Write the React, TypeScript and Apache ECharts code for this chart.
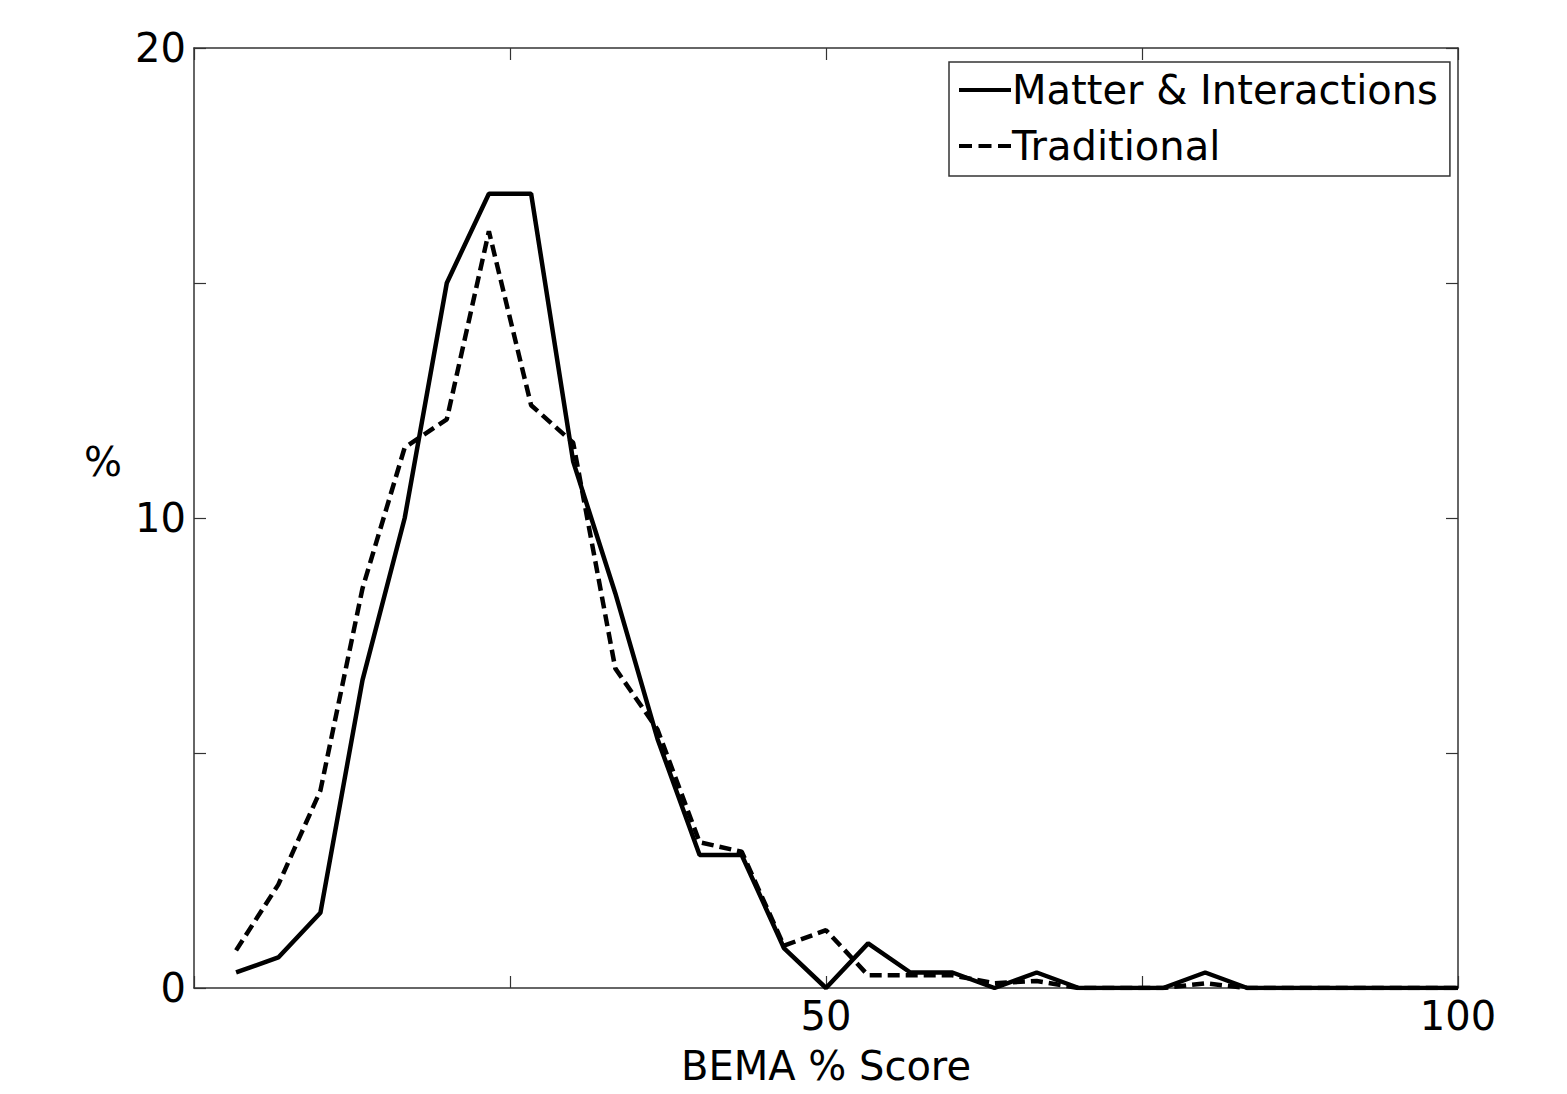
import React, { useEffect, useRef } from "react";
import * as echarts from "echarts";

// BEMA % score bins (30-question test)
const scores = [
  3.33, 6.67, 10, 13.33, 16.67, 20, 23.33, 26.67, 30, 33.33,
  36.67, 40, 43.33, 46.67, 50, 53.33, 56.67, 60, 63.33, 66.67,
  70, 73.33, 76.67, 80, 83.33, 86.67, 90, 93.33, 96.67, 100,
];
const matterInteractions = [
  0.33, 0.65, 1.6, 6.55, 10.0, 15.0, 16.9, 16.9, 11.2, 8.4,
  5.3, 2.83, 2.83, 0.85, 0, 0.95, 0.33, 0.33, 0, 0.33,
  0, 0, 0, 0.33, 0, 0, 0, 0, 0, 0,
];
const traditional = [
  0.8, 2.2, 4.2, 8.5, 11.5, 12.1, 16.1, 12.4, 11.6, 6.8,
  5.5, 3.1, 2.9, 0.9, 1.23, 0.27, 0.27, 0.27, 0.1, 0.15,
  0, 0, 0, 0.1, 0, 0, 0, 0, 0, 0,
];
const xLabelsShown = [50, 100];
const yLabelsShown = [0, 10, 20];

const FONT = "DejaVu Sans, Liberation Sans, Arial, sans-serif";
const FS = 40;

const SOLID_ICON = "path://M0,0h52v4h-52z";
const DASH_ICON = "path://M0,0h13v4h-13zM19.5,0h13v4h-13zM39,0h13v4h-13z";

export default function App() {
  const ref = useRef<HTMLDivElement>(null);
  useEffect(() => {
    if (!ref.current) return;
    const chart = echarts.init(ref.current, null, { renderer: "svg" });
    const pairs = (ys: number[]) => scores.map((x, i) => [x, ys[i]]);
    const axisLine = { show: true, onZero: false, lineStyle: { color: "#333", width: 1.5 } };
    const tick = { show: true, inside: true, length: 12, lineStyle: { color: "#333", width: 1.2 } };
    chart.setOption({
      animation: false,
      backgroundColor: "#fff",
      grid: { left: 194, top: 48, width: 1264, height: 940, show: false },
      legend: {
        left: 949,
        top: 62,
        orient: "vertical",
        borderColor: "#333",
        borderWidth: 1.5,
        padding: [8, 12, 10, 10],
        itemWidth: 52,
        itemHeight: 4,
        itemGap: 16,
        itemStyle: { color: "#000", borderWidth: 0 },
        textStyle: { fontSize: FS, fontFamily: FONT, color: "#000", padding: [0, 0, 0, -4] },
        data: [
          { name: "Matter & Interactions", icon: SOLID_ICON },
          { name: "Traditional", icon: DASH_ICON },
        ],
      },
      xAxis: [
        {
          type: "value",
          min: 0,
          max: 100,
          interval: 25,
          position: "bottom",
          axisLine,
          axisTick: tick,
          splitLine: { show: false },
          axisLabel: {
            fontSize: FS,
            fontFamily: FONT,
            color: "#000",
            margin: 8,
            formatter: (v: number) => (xLabelsShown.includes(v) ? String(v) : ""),
          },
          name: "BEMA % Score",
          nameLocation: "middle",
          nameGap: 58,
          nameTextStyle: { fontSize: FS, fontFamily: FONT, color: "#000" },
        },
        {
          type: "value",
          min: 0,
          max: 100,
          interval: 25,
          position: "top",
          axisLine,
          axisTick: tick,
          splitLine: { show: false },
          axisLabel: { show: false },
        },
      ],
      yAxis: [
        {
          type: "value",
          min: 0,
          max: 20,
          interval: 5,
          position: "left",
          axisLine,
          axisTick: tick,
          splitLine: { show: false },
          axisLabel: {
            fontSize: FS,
            fontFamily: FONT,
            color: "#000",
            margin: 8,
            formatter: (v: number) => (yLabelsShown.includes(v) ? String(v) : ""),
          },
        },
        {
          type: "value",
          min: 0,
          max: 20,
          interval: 5,
          position: "right",
          axisLine,
          axisTick: tick,
          splitLine: { show: false },
          axisLabel: { show: false },
        },
      ],
      graphic: [
        {
          type: "text",
          left: 84,
          top: 442,
          style: { text: "%", fontSize: FS, fontFamily: FONT, fill: "#000" },
        },
      ],
      series: [
        {
          name: "Matter & Interactions",
          type: "line",
          data: pairs(matterInteractions),
          symbol: "none",
          lineStyle: { color: "#000", width: 4.5, type: "solid" },
          itemStyle: { color: "#000" },
        },
        {
          name: "Traditional",
          type: "line",
          data: pairs(traditional),
          symbol: "none",
          lineStyle: { color: "#000", width: 4.5, type: [12, 6] },
          itemStyle: { color: "#000" },
        },
      ],
    });
    return () => chart.dispose();
  }, []);
  return (
    <div
      ref={ref}
      style={{ position: "fixed", left: 0, top: 0, width: 1567, height: 1094, background: "#fff" }}
    />
  );
}
